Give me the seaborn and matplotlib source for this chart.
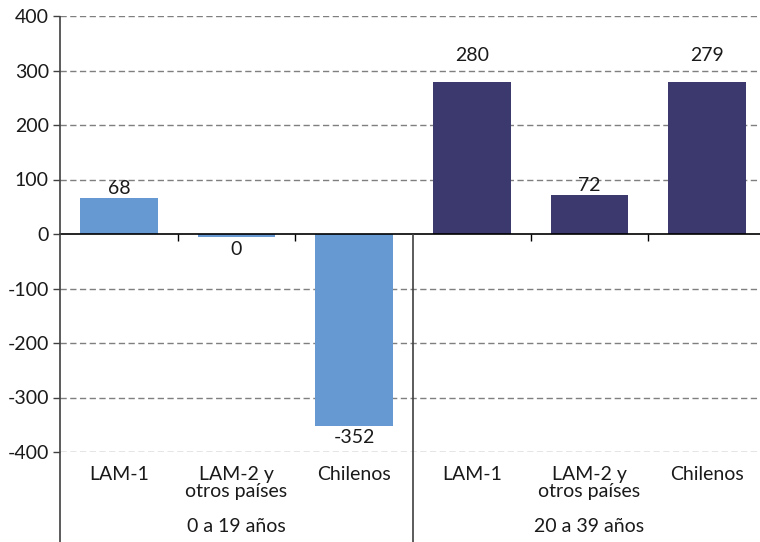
import matplotlib
matplotlib.use("Agg")
import matplotlib.pyplot as plt
import seaborn as sns
import pandas as pd

# ---- data ----
groups = ["0 a 19 años", "0 a 19 años", "0 a 19 años",
          "20 a 39 años", "20 a 39 años", "20 a 39 años"]
categories = ["LAM-1", "LAM-2 y\notros países", "Chilenos",
              "LAM-1", "LAM-2 y\notros países", "Chilenos"]
values = [66, -6, -352, 278, 72, 278]
value_labels = ["68", "0", "-352", "280", "72", "279"]
group_names = ["0 a 19 años", "20 a 39 años"]
yticks = [-400, -300, -200, -100, 0, 100, 200, 300, 400]

colors = {"0 a 19 años": "#6699D1", "20 a 39 años": "#3B396D"}

sns.set_style("white")
plt.rcParams["font.family"] = ["Lato", "DejaVu Sans"]

df = pd.DataFrame({
    "key": [f"{g}|{c}" for g, c in zip(groups, categories)],
    "grupo": groups,
    "valor": values,
})

fig = plt.figure(figsize=(7.6, 5.42), dpi=100)
ax = fig.add_axes([60 / 760, 90 / 542, 706 / 760, 436 / 542])

sns.barplot(data=df, x="key", y="valor", hue="grupo", palette=colors,
            dodge=False, width=0.66, legend=False, ax=ax, saturation=1,
            edgecolor="none", linewidth=0, zorder=3)

ax.set_xlim(-0.5, len(values) - 0.5)
ax.set_ylim(-400, 400)
ax.set_xlabel("")
ax.set_ylabel("")

FS = 14
TC = "#1a1a1a"

# gridlines
for yv in yticks:
    if yv != 0:
        ax.axhline(yv, color="#7f7f7f", lw=1.0, ls=(0, (4.5, 2.5)), zorder=1)

# spines
for s in ["top", "right"]:
    ax.spines[s].set_visible(False)
ax.spines["bottom"].set_position(("data", 0))
ax.spines["bottom"].set_color("black")
ax.spines["bottom"].set_linewidth(1.2)
ax.spines["bottom"].set_zorder(4)
ax.spines["left"].set_visible(False)

# left axis line extended to bottom
ax.vlines(-0.5, -620, 400, color="#404040", lw=1.2, clip_on=False, zorder=5)
# group separator
ax.vlines(2.5, -620, 0, color="#404040", lw=1.2, clip_on=False, zorder=5)

# y ticks
ax.set_yticks(yticks)
ax.set_yticklabels([str(v) for v in yticks], fontsize=FS, color=TC)
ax.tick_params(axis="y", direction="out", length=5, width=1, color="#404040",
               left=True, pad=3)

# x ticks at category boundaries (no labels)
ax.set_xticks([0.5, 1.5, 3.5, 4.5])
ax.set_xticklabels([])
ax.tick_params(axis="x", direction="out", length=5, width=1, color="black",
               bottom=True)

# category labels
for i, c in enumerate(categories):
    ax.text(i, -425, c, ha="center", va="top", fontsize=FS,
            color=TC, linespacing=1.0, clip_on=False)

# group labels
for j, g in enumerate(group_names):
    ax.text(3 * j + 1, -537, g, ha="center", va="center", fontsize=FS,
            color=TC, clip_on=False)

# value labels (moved above a gridline they would otherwise cross)
LABEL_H = 22  # approx label height in data units
for i, (v, lab) in enumerate(zip(values, value_labels)):
    if v >= 0:
        base = v + 2
        crossed = [g for g in yticks if base < g < base + LABEL_H]
        if crossed:
            base = crossed[0] + 12
        ax.text(i, base, lab, ha="center", va="bottom", fontsize=FS,
                color=TC, zorder=6)
    else:
        ax.text(i, v - 6, lab, ha="center", va="top", fontsize=FS,
                color=TC, zorder=6)

fig.savefig("out.png", dpi=100)
